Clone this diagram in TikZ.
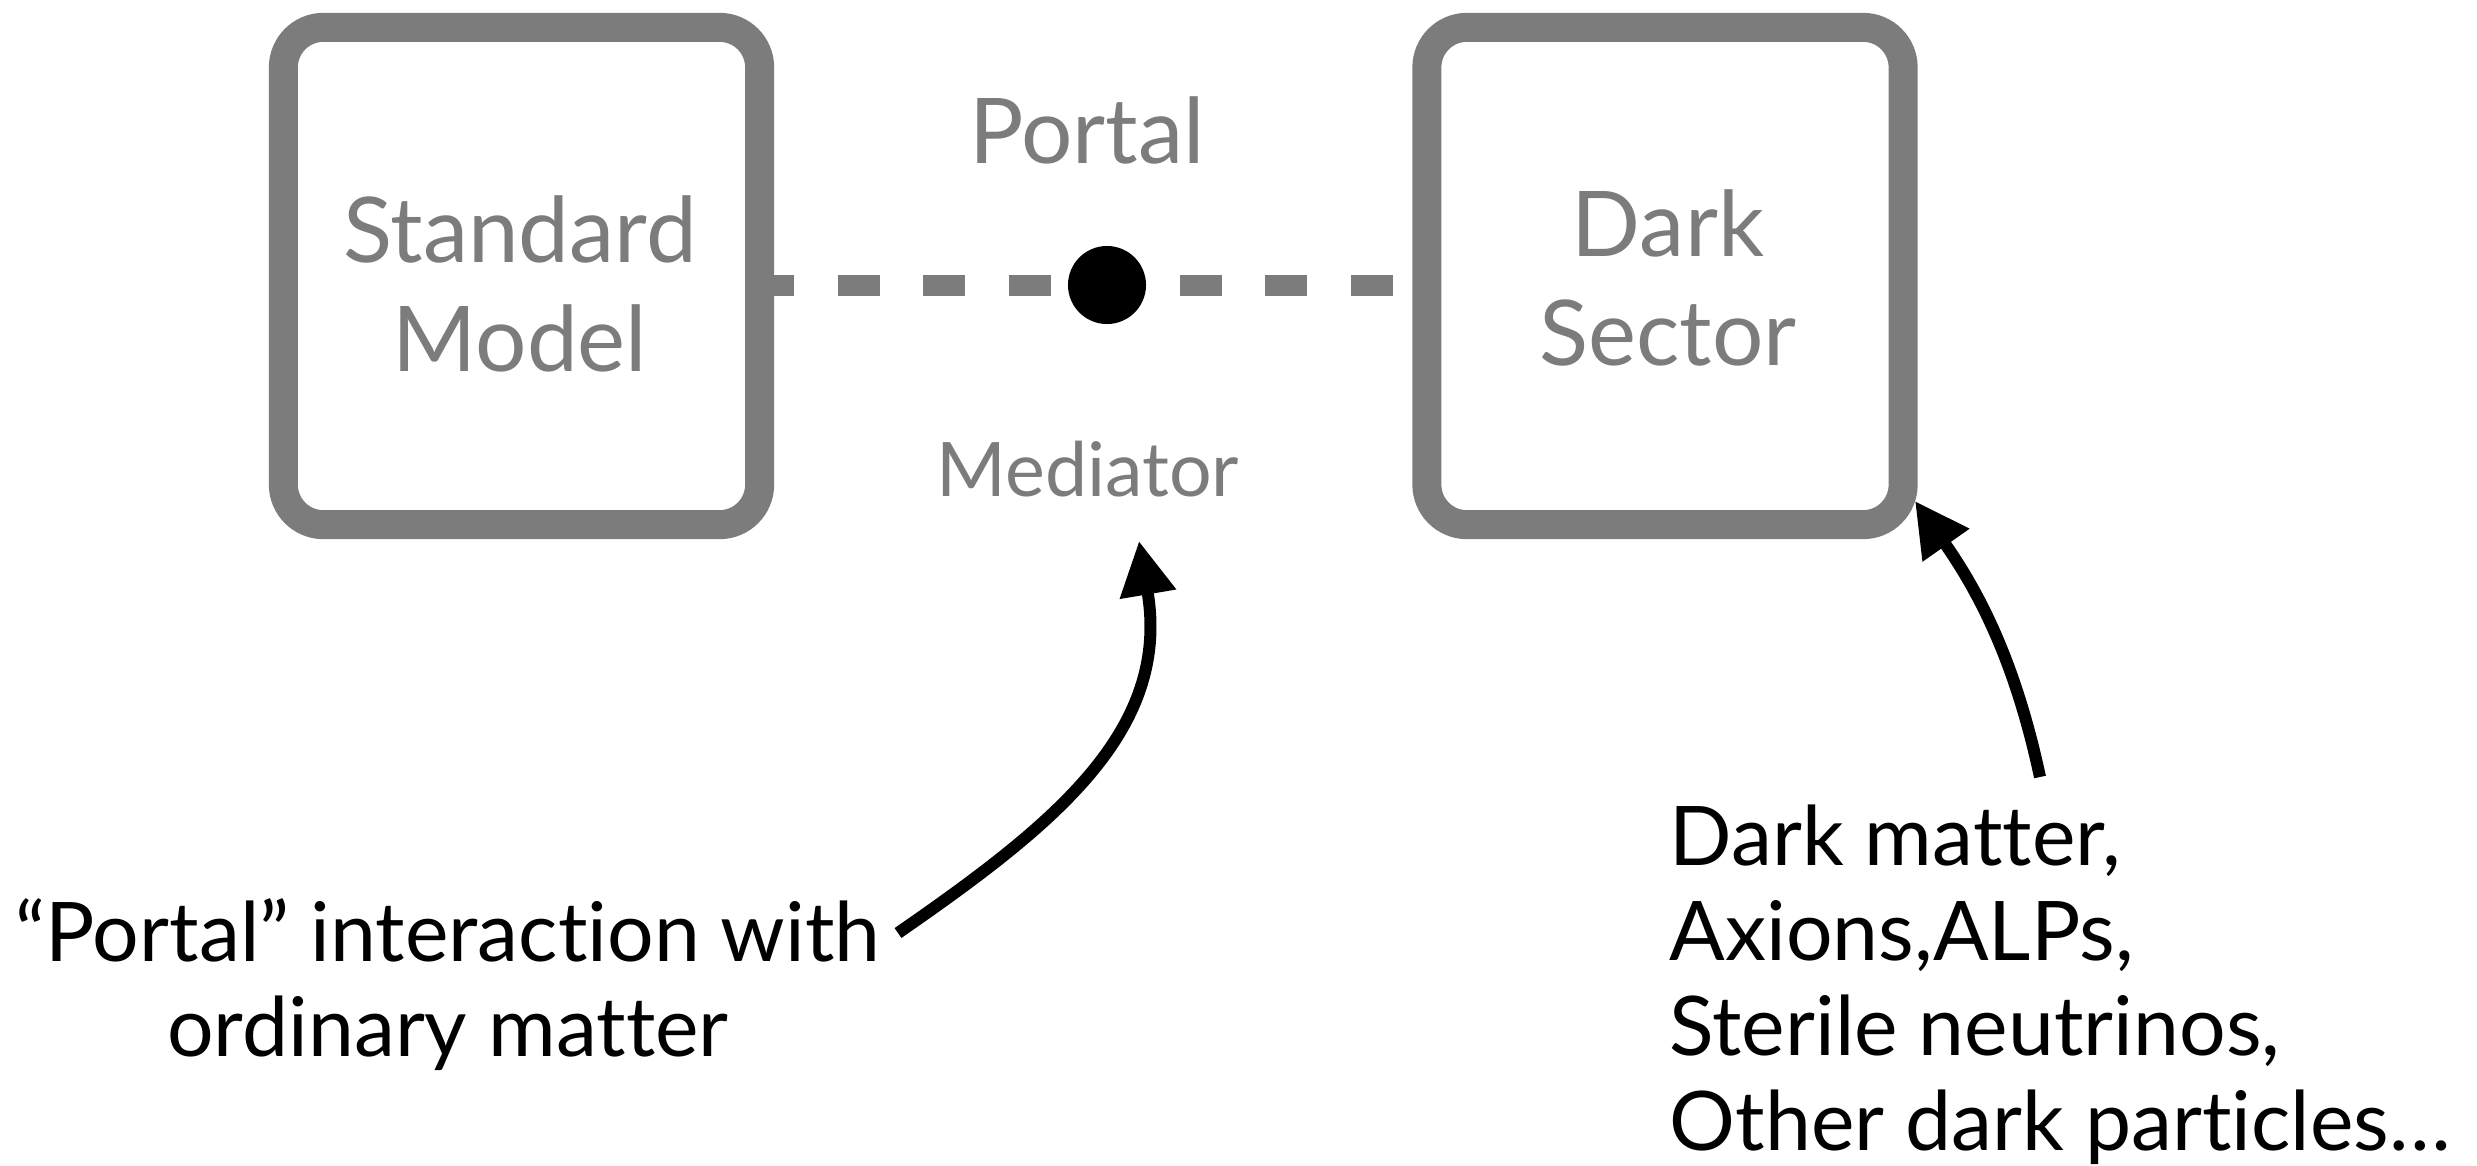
\documentclass[tikz,border=0pt]{standalone}
\usepackage{fontspec}
\setmainfont{Lato}[Ligatures={NoCommon}]
\usetikzlibrary{arrows.meta}
\definecolor{boxgray}{RGB}{124,124,124}
\begin{document}
\begin{tikzpicture}[x=0.01cm,y=-0.01cm,
  sectorbox/.style={draw=boxgray, line width=0.29cm, rounded corners=0.4cm,
    minimum width=4.76cm, minimum height=4.97cm, inner sep=0pt},
  boxlabel/.style={text=boxgray, font=\fontsize{25.8pt}{30.9pt}\selectfont,
    align=center, inner sep=0pt, anchor=base},
  midlabel/.style={text=boxgray, inner sep=0pt, anchor=base},
  note/.style={text=black, font=\fontsize{23.4pt}{27pt}\selectfont,
    inner sep=0pt, anchor=base},
  dashline/.style={draw=boxgray, line width=0.21cm,
    dash pattern=on 0.42cm off 0.435cm, dash phase=0.22cm},
  dotstyle/.style={circle, fill=black, minimum size=0.78cm, inner sep=0pt},
  pointer/.style={draw=black, line width=0.12cm,
    -{Triangle[length=0.54cm,width=0.54cm]}}
]
\useasboundingbox (0,0) rectangle (2477,1166);

% boxes
\node[sectorbox] (sm) at (521.5,276) {};
\node[sectorbox] (ds) at (1665,276) {};

% dashed portal line with mediator dot
\coordinate (mid) at (1107,285);
\draw[dashline] (sm.east |- mid) -- (ds.west |- mid);
\node[dotstyle] (dot) at (mid) {};

% box labels (base = last line)
\node[boxlabel] (smt) at (520,371) {Standard\\Model};
\node[boxlabel] (dst) at (1668,365) {Dark\\Sector};

% portal / mediator labels
\node[midlabel, font=\fontsize{25.8pt}{30.9pt}\selectfont] (portal) at (1087,163) {Portal};
\node[midlabel, font=\fontsize{21.4pt}{25pt}\selectfont] (mediator) at (1088,496) {Mediator};

% notes (base = last line)
\node[note, align=center] (inter) at (448,1056) {“Portal” interaction with\\ordinary matter};
\node[note, align=left, anchor=base west] (parts) at (1669,1150)
  {Dark matter,\\Axions,ALPs,\\Sterile neutrinos,\\Other dark particles…};

% pointers
\coordinate (a1s) at (898,933);
\coordinate (a1e) at (1139,541);
\coordinate (a2s) at (2040,777);
\coordinate (a2e) at (1915,501);
\draw[pointer] (a1s) .. controls (1054,825) and (1171,731) .. (a1e);
\draw[pointer] (a2s) .. controls (2016,665) and (1981,595) .. (a2e);
\end{tikzpicture}
\end{document}
